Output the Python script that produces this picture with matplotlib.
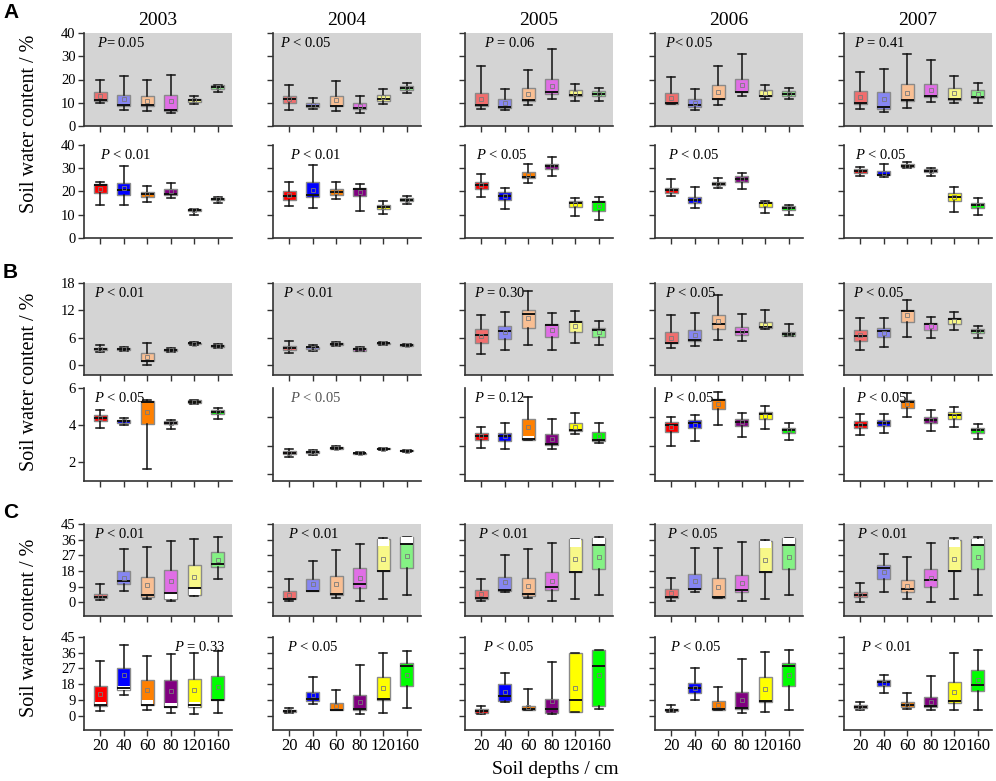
import matplotlib
matplotlib.use("Agg")
import matplotlib.pyplot as plt

plt.rcParams['font.family'] = ['Liberation Serif', 'DejaVu Serif']
plt.rcParams['mathtext.fontset'] = 'custom'
plt.rcParams['mathtext.it'] = 'Liberation Serif:italic'
plt.rcParams['mathtext.rm'] = 'Liberation Serif'

years = ['2003', '2004', '2005', '2006', '2007']
depths = ['20', '40', '60', '80', '120', '160']

# each box: (whisker low, q1, median, q3, whisker high, mean)
a_top = [
    [(9.8, 10.9, 11.2, 14.5, 19.9, 13.0), (6.8, 8.6, 8.9, 13.5, 21.3, 11.5), (6.5, 8.6, 8.9, 12.7, 19.7, 10.9),
     (5.5, 6.3, 7.0, 13.4, 21.9, 10.8), (9.4, 10.5, 11.1, 11.8, 12.7, 11.1), (14.5, 16.0, 16.8, 17.6, 17.8, 16.8)],
    [(6.9, 9.8, 11.8, 12.8, 17.7, 11.5), (7.2, 8.1, 8.8, 9.9, 12.2, 9.0), (6.6, 8.5, 8.8, 12.8, 19.3, 11.2),
     (5.5, 7.2, 7.8, 9.9, 13.1, 8.8), (9.6, 10.9, 11.6, 13.4, 15.8, 12.4), (14.2, 15.3, 16.4, 17.1, 18.4, 16.3)],
    [(7.2, 8.6, 8.9, 14.4, 25.6, 11.8), (6.9, 7.9, 8.3, 11.7, 16.0, 10.1), (8.9, 10.9, 11.2, 16.4, 24.0, 13.8),
     (11.5, 13.7, 14.7, 20.3, 33.1, 17.0), (10.8, 12.8, 13.5, 15.5, 18.0, 14.2), (10.8, 12.8, 13.7, 15.1, 16.4, 13.9)],
    [(9.5, 9.6, 9.8, 14.1, 20.9, 12.2), (6.8, 8.3, 8.9, 11.5, 16.1, 9.9), (9.1, 11.4, 11.7, 17.6, 25.8, 14.7),
     (13.1, 14.5, 14.8, 20.3, 31.1, 17.7), (11.4, 12.8, 13.1, 15.4, 17.6, 14.0), (11.4, 12.8, 13.8, 15.0, 16.3, 13.8)],
    [(7.2, 9.6, 9.9, 15.0, 23.2, 12.4), (5.9, 7.5, 8.3, 14.5, 24.7, 11.5), (7.6, 10.8, 11.2, 18.1, 30.9, 14.4),
     (10.5, 12.5, 12.9, 18.0, 28.5, 15.3), (9.9, 11.2, 11.8, 16.3, 21.7, 14.0), (9.9, 11.9, 12.5, 15.3, 18.4, 13.7)],
]
a_bottom = [
    [(14.3, 19.3, 22.8, 23.2, 23.9, 21.2), (14.3, 18.6, 20.6, 23.6, 30.9, 21.3), (15.5, 17.5, 18.8, 19.9, 22.2, 18.8),
     (17.2, 18.7, 19.0, 20.9, 23.8, 20.0), (10.1, 11.4, 12.0, 12.5, 12.6, 12.0), (15.2, 16.4, 16.8, 17.2, 17.7, 16.8)],
    [(13.7, 16.4, 18.1, 20.3, 24.1, 18.5), (12.8, 17.5, 18.7, 23.9, 31.3, 20.6), (16.7, 18.7, 19.7, 20.9, 24.1, 19.8),
     (11.6, 18.0, 21.0, 21.3, 23.1, 19.8), (10.3, 12.4, 13.4, 14.1, 15.8, 13.3), (14.7, 15.7, 16.5, 17.1, 18.1, 16.4)],
    [(17.5, 21.2, 22.6, 24.3, 27.7, 22.7), (12.5, 16.4, 18.1, 19.7, 21.7, 18.1), (23.5, 25.8, 26.2, 28.6, 31.9, 27.2),
     (26.7, 29.7, 30.9, 31.9, 34.8, 30.8), (9.4, 13.2, 14.9, 15.7, 17.1, 14.5), (7.8, 11.7, 15.4, 15.7, 17.8, 13.9)],
    [(18.0, 19.4, 20.6, 21.6, 25.2, 20.6), (12.8, 15.1, 16.4, 17.8, 21.9, 16.4), (21.4, 22.6, 23.3, 24.2, 25.9, 23.3),
     (20.9, 24.3, 25.5, 26.5, 28.1, 25.3), (10.6, 13.5, 15.0, 15.5, 15.8, 14.5), (9.9, 12.0, 12.8, 13.9, 14.2, 12.9)],
    [(26.8, 27.8, 28.8, 29.6, 30.4, 28.7), (26.4, 27.0, 27.2, 28.8, 31.9, 27.9), (30.3, 30.4, 31.0, 31.7, 32.8, 31.0),
     (26.7, 28.3, 29.0, 29.7, 30.1, 29.0), (11.0, 15.9, 17.8, 19.3, 22.0, 17.8), (9.9, 12.8, 14.3, 15.1, 17.2, 14.0)],
]
b_top = [
    [(2.9, 3.3, 3.6, 3.9, 4.35, 3.6), (3.1, 3.27, 3.55, 3.85, 4.1, 3.55), (0.0, 0.87, 1.0, 2.6, 4.8, 1.9),
     (2.9, 3.1, 3.3, 3.5, 3.7, 3.3), (4.4, 4.6, 4.8, 4.9, 5.1, 4.75), (3.85, 4.0, 4.2, 4.35, 4.6, 4.2)],
    [(2.68, 3.4, 3.83, 4.27, 5.4, 3.85), (3.25, 3.54, 3.98, 4.12, 4.55, 3.9), (4.2, 4.4, 4.77, 5.0, 5.2, 4.7),
     (3.04, 3.25, 3.54, 3.76, 3.98, 3.5), (4.55, 4.7, 4.84, 5.0, 5.13, 4.85), (4.2, 4.34, 4.48, 4.63, 4.7, 4.5)],
    [(2.46, 5.0, 6.72, 8.03, 11.06, 6.4), (3.4, 5.8, 7.6, 8.5, 11.6, 7.3), (4.5, 8.2, 11.2, 12.1, 16.3, 10.3),
     (3.4, 6.1, 8.8, 9.0, 11.5, 7.7), (4.8, 7.2, 9.4, 9.8, 11.9, 8.6), (4.5, 6.3, 7.7, 8.1, 9.8, 7.2)],
    [(3.69, 4.92, 4.95, 7.3, 11.06, 6.07), (4.19, 5.42, 5.64, 7.8, 11.4, 6.58), (5.5, 8.0, 9.1, 11.06, 15.3, 9.6),
     (5.28, 6.58, 7.3, 8.3, 11.2, 7.6), (7.9, 8.17, 8.4, 9.47, 12.0, 8.9), (6.36, 6.4, 6.94, 7.38, 8.97, 6.94)],
    [(3.33, 5.42, 6.36, 7.8, 10.3, 6.72), (3.98, 6.15, 7.45, 8.24, 10.3, 7.16), (6.15, 9.4, 11.86, 12.1, 14.2, 10.9),
     (6.07, 7.8, 9.1, 9.33, 10.5, 8.6), (7.8, 9.04, 10.2, 10.4, 11.64, 9.76), (6.07, 7.1, 7.6, 8.0, 8.6, 7.6)],
]
b_bottom = [
    [(3.84, 4.2, 4.38, 4.56, 4.84, 4.38), (4.0, 4.13, 4.2, 4.27, 4.38, 4.2), (1.65, 4.09, 5.27, 5.31, 5.38, 4.7),
     (3.8, 4.04, 4.13, 4.22, 4.29, 4.13), (5.13, 5.2, 5.27, 5.33, 5.38, 5.27), (4.34, 4.61, 4.7, 4.83, 4.9, 4.7)],
    [(3.23, 3.4, 3.52, 3.61, 3.76, 3.52), (3.35, 3.47, 3.57, 3.66, 3.71, 3.57), (3.76, 3.81, 3.88, 3.95, 4.0, 3.88),
     (3.4, 3.42, 3.47, 3.52, 3.57, 3.47), (3.73, 3.76, 3.81, 3.86, 3.88, 3.81), (3.57, 3.61, 3.66, 3.71, 3.73, 3.66)],
    [(3.83, 4.43, 4.72, 4.87, 5.33, 4.7), (3.78, 4.36, 4.72, 4.89, 5.59, 4.72), (4.43, 4.43, 4.48, 5.88, 7.42, 5.35),
     (3.76, 4.07, 4.12, 4.84, 5.88, 4.48), (4.84, 5.06, 5.1, 5.61, 6.27, 5.35), (4.19, 4.31, 4.39, 4.96, 5.59, 4.67)],
    [(3.98, 4.99, 5.47, 5.64, 6.0, 5.35), (4.31, 5.23, 5.61, 5.81, 6.14, 5.47), (5.47, 6.6, 7.23, 7.3, 7.76, 6.96),
     (4.65, 5.37, 5.69, 5.88, 6.31, 5.65), (5.16, 5.86, 6.22, 6.39, 6.77, 6.12), (4.39, 4.92, 5.11, 5.28, 5.61, 5.11)],
    [(4.75, 5.25, 5.49, 5.71, 6.24, 5.47), (4.89, 5.37, 5.61, 5.78, 6.22, 5.59), (6.02, 6.67, 7.04, 7.23, 7.73, 6.96),
     (5.04, 5.57, 5.81, 6.0, 6.48, 5.79), (5.33, 5.88, 6.17, 6.34, 6.7, 6.12), (4.48, 4.87, 5.08, 5.25, 5.52, 5.08)],
]
c_top = [
    [(1.3, 2.3, 3.07, 5.0, 10.5, 3.8), (6.5, 10.3, 12.1, 18.0, 30.8, 14.2), (2.1, 3.26, 4.0, 14.6, 32.0, 9.8),
     (0.8, 1.7, 5.4, 18.8, 35.2, 12.1), (3.8, 4.0, 8.2, 21.5, 36.4, 14.4), (13.4, 20.1, 21.8, 28.7, 37.4, 24.5)],
    [(0.6, 1.7, 2.1, 6.7, 13.4, 4.4), (6.3, 6.3, 6.7, 13.2, 23.6, 10.5), (2.7, 4.4, 5.0, 14.9, 30.3, 10.5),
     (0.6, 8.0, 10.5, 19.5, 33.5, 13.8), (1.7, 17.8, 17.8, 36.6, 37.2, 25.1), (4.2, 19.5, 33.5, 37.7, 37.7, 26.8)],
    [(0.6, 2.1, 2.5, 7.1, 13.4, 5.0), (5.9, 6.7, 7.1, 14.6, 27.4, 11.5), (2.5, 3.6, 5.0, 14.2, 30.7, 9.6),
     (0.8, 7.1, 9.0, 17.4, 33.9, 12.5), (1.9, 17.4, 17.4, 36.2, 36.4, 24.9), (4.0, 19.0, 33.1, 37.2, 37.4, 26.2)],
    [(0.8, 2.3, 2.9, 7.9, 13.8, 5.6), (5.9, 7.5, 7.9, 16.1, 31.0, 12.1), (2.7, 2.7, 3.3, 13.8, 31.2, 9.0),
     (1.0, 5.7, 7.1, 15.9, 34.7, 10.9), (2.1, 17.4, 17.4, 35.2, 36.0, 24.5), (4.0, 19.0, 32.8, 36.8, 37.0, 25.9)],
    [(0.4, 2.9, 4.0, 5.9, 10.9, 4.4), (5.7, 13.6, 19.9, 21.3, 27.6, 17.4), (2.1, 5.7, 7.7, 12.6, 25.9, 9.2),
     (0.4, 8.6, 12.6, 19.3, 34.3, 14.2), (1.9, 17.8, 17.8, 36.0, 37.2, 25.1), (4.0, 19.2, 32.8, 36.6, 37.5, 26.0)],
]
c_bottom = [
    [(2.5, 5.7, 6.3, 17.2, 31.4, 12.3), (11.7, 14.8, 15.7, 27.2, 40.4, 23.0), (3.4, 6.3, 6.3, 20.5, 34.1, 14.4),
     (1.7, 4.8, 5.2, 20.5, 35.2, 14.2), (1.0, 5.2, 6.3, 21.1, 36.0, 14.4), (1.7, 9.0, 9.0, 22.8, 36.8, 16.5)],
    [(1.3, 2.1, 2.7, 3.3, 4.6, 2.7), (6.9, 8.6, 9.4, 13.6, 22.0, 11.7), (3.1, 3.1, 3.4, 7.3, 14.4, 5.6),
     (1.1, 3.4, 3.8, 12.1, 28.9, 8.0), (1.7, 9.2, 9.6, 22.2, 35.6, 15.7), (4.4, 16.9, 28.4, 29.9, 37.2, 23.4)],
    [(1.1, 1.7, 2.7, 3.8, 5.4, 2.7), (7.9, 8.4, 11.1, 18.0, 24.5, 13.4), (3.3, 3.3, 4.0, 5.7, 15.5, 5.0),
     (1.1, 1.7, 3.8, 9.6, 30.5, 8.4), (2.1, 2.1, 9.0, 35.8, 36.0, 15.7), (3.8, 5.4, 28.4, 37.4, 37.5, 23.4)],
    [(1.9, 2.7, 3.3, 4.0, 6.1, 3.3), (9.2, 13.0, 15.9, 18.8, 27.2, 15.9), (3.3, 3.3, 3.8, 8.2, 16.5, 6.1),
     (1.7, 3.8, 4.2, 13.8, 32.2, 9.2), (2.3, 8.0, 8.6, 22.2, 36.2, 15.5), (3.4, 16.7, 28.5, 30.1, 37.5, 23.4)],
    [(3.4, 4.2, 5.0, 5.9, 7.9, 5.0), (13.2, 16.9, 19.5, 20.5, 23.4, 18.8), (4.0, 4.8, 6.1, 7.7, 12.8, 5.9),
     (3.4, 4.8, 5.4, 10.5, 22.6, 8.0), (3.1, 7.3, 8.2, 19.2, 35.6, 13.8), (3.4, 14.0, 17.8, 26.4, 37.5, 20.3)],
]

# unfilled (white) stretches inside some boxes: (row, year, depth, y0, y1)
white_parts = [
    (3, 2, 2, 4.43, 4.67),
    (4, 0, 3, 1.7, 5.4), (4, 0, 4, 4.0, 8.2),
    (4, 1, 4, 32.4, 36.6), (4, 1, 5, 33.5, 37.7),
    (4, 2, 4, 31.6, 36.2), (4, 2, 5, 33.1, 37.2),
    (4, 3, 4, 31.4, 35.2), (4, 3, 5, 32.8, 36.8),
    (4, 4, 4, 32.0, 36.0), (4, 4, 5, 32.8, 36.6),
    (5, 0, 0, 5.7, 7.7), (5, 0, 1, 14.8, 16.7), (5, 0, 2, 6.3, 9.0),
    (5, 0, 3, 4.8, 7.1), (5, 0, 4, 5.2, 7.7),
]

p_text = [
    ['= 0.05', ' < 0.05', ' = 0.06', '< 0.05', ' = 0.41'],
    [' < 0.01', ' < 0.01', ' < 0.05', ' < 0.05', ' < 0.05'],
    [' < 0.01', ' < 0.01', ' = 0.30', ' < 0.05', ' < 0.05'],
    [' < 0.05', ' < 0.05', ' = 0.12', ' < 0.05', ' < 0.05'],
    [' < 0.01', ' < 0.01', ' < 0.01', ' < 0.05', ' < 0.01'],
    [' = 0.33', ' < 0.05', ' < 0.05', ' < 0.05', ' < 0.01'],
]
p_x = [
    [0.09, 0.05, 0.13, 0.07, 0.07],
    [0.11, 0.115, 0.075, 0.09, 0.075],
    [0.07, 0.07, 0.06, 0.07, 0.06],
    [0.07, 0.115, 0.06, 0.055, 0.08],
    [0.07, 0.10, 0.09, 0.08, 0.09],
    [0.61, 0.095, 0.12, 0.10, 0.115],
]

dark_colors = ['#ff0000', '#0000ff', '#ff8000', '#800080', '#ffff00', '#00ff00']
light_colors = ['#f26d6d', '#8686f2', '#f9bf93', '#e06ee6', '#f8f888', '#84f284']

rows = [a_top, a_bottom, b_top, b_bottom, c_top, c_bottom]
ylims = [(0, 40), (0, 40), (-2.1, 18), (1, 6), (-7.9, 45), (-8.2, 45)]
yticks = [range(0, 41, 10), range(0, 41, 10), [0, 6, 12, 18], [2, 4, 6],
          range(0, 46, 9), range(0, 46, 9)]

W, H = 996.0, 781.0
col_left = [84, 273, 465, 655, 844]
row_span = [(33, 126), (145, 238), (283, 375), (388, 481), (524, 616), (637, 730)]

fig = plt.figure(figsize=(9.96, 7.81), dpi=100)

for r, data in enumerate(rows):
    top, bot = row_span[r]
    shaded = (r % 2 == 0)
    colors = light_colors if shaded else dark_colors
    for c in range(5):
        ax = fig.add_axes([col_left[c] / W, 1 - bot / H, 148 / W, (bot - top) / H])
        stats = []
        for lo, q1, med, q3, hi, mean in data[c]:
            stats.append(dict(whislo=lo, q1=q1, med=med, q3=q3, whishi=hi,
                              mean=mean, fliers=[]))
        bp = ax.bxp(stats, positions=range(1, 7), widths=0.55, capwidths=0.34,
                    patch_artist=True, showmeans=True, showfliers=False,
                    manage_ticks=False,
                    boxprops=dict(edgecolor='#8a8a8a', linewidth=1.0),
                    whiskerprops=dict(color='#111111', linewidth=1.1),
                    capprops=dict(color='#111111', linewidth=1.1),
                    medianprops=dict(color='#111111', linewidth=1.4),
                    meanprops=dict(marker='s', markersize=3, markerfacecolor='none',
                                   markeredgecolor='#7a7a7a', markeredgewidth=0.6))
        for patch, col in zip(bp['boxes'], colors):
            patch.set_facecolor(col)
            patch.set_zorder(2)
        for ln in bp['medians']:
            ln.set_zorder(4)
        for ln in bp['means']:
            ln.set_zorder(5)
        for rr, cc, k, y0, y1 in white_parts:
            if rr == r and cc == c:
                ax.bar(k + 1, y1 - y0, bottom=y0, width=0.5, color='white',
                       linewidth=0, zorder=3)

        ax.set_xlim(0.3, 6.6)
        if r == 3 and c > 0:
            ax.set_ylim(1.54, 8.05)
        else:
            ax.set_ylim(*ylims[r])
        ax.set_yticks(list(yticks[r]))
        ax.set_xticks(range(1, 7))
        if shaded:
            ax.set_facecolor('#d4d4d4')
        for s in ['top', 'right']:
            ax.spines[s].set_visible(False)
        for s in ['left', 'bottom']:
            ax.spines[s].set_color('#333333')
            ax.spines[s].set_linewidth(1.2)
        ax.tick_params(direction='out', length=4, width=1, color='#333333',
                       labelsize=10.5, pad=2)
        if c > 0:
            ax.set_yticklabels([])
        if r == 5:
            ax.set_xticklabels(depths, fontsize=12)
        else:
            ax.set_xticklabels([])
        txt_color = '#555555' if (r == 3 and c == 1) else 'black'
        ax.text(p_x[r][c], 0.89, r'$P$' + p_text[r][c], transform=ax.transAxes,
                fontsize=10.5, va='center', ha='left', color=txt_color)
        if r == 0:
            ax.set_title(years[c], fontsize=14, pad=6)

for letter, yy in zip(['A', 'B', 'C'], [12, 272, 512]):
    fig.text(3 / W, 1 - yy / H, letter, fontsize=15, fontweight='bold',
             family=['Liberation Sans', 'DejaVu Sans'], va='center', ha='left')
for yy in [124, 382, 628]:
    fig.text(30 / W, 1 - yy / H, 'Soil water content / %', rotation=90,
             fontsize=14.5, va='center', ha='center')
fig.text(555 / W, 1 - 770 / H, 'Soil depths / cm', fontsize=14, ha='center', va='center')

fig.savefig('out.png', dpi=100)
